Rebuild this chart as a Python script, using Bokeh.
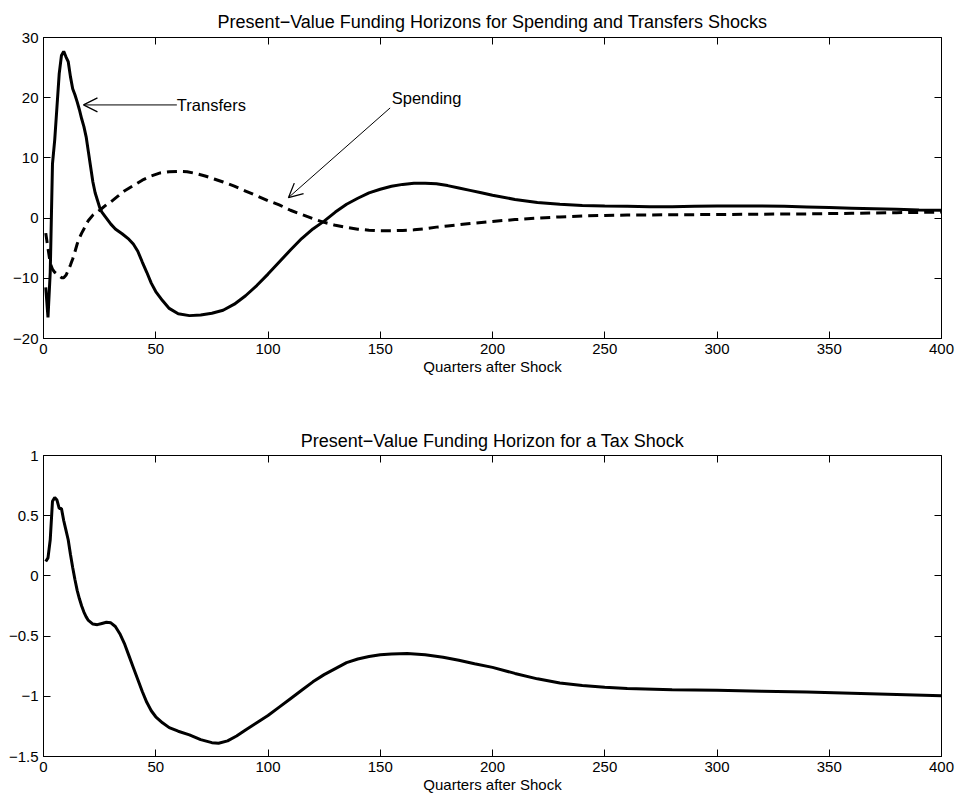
from bokeh.plotting import figure
from bokeh.models import LinearAxis, FixedTicker, Range1d, Label, Arrow, OpenHead
from bokeh.layouts import column
from bokeh.embed import file_html
from bokeh.resources import INLINE

# ---------------- data ----------------
transfers_x = [1, 2, 3, 4, 5, 6, 7, 8, 9, 10, 11, 12, 13, 14, 15, 16, 17, 18, 19, 20,
               21, 22, 23, 24, 25, 26, 28, 30, 32, 35, 38, 40, 42, 44, 46, 48, 50, 53, 56, 60,
               65, 70, 75, 80, 85, 90, 95, 100, 105, 110, 115, 120, 125, 130, 135, 140, 145,
               150, 155, 160, 165, 170, 175, 180, 185, 190, 195, 200, 210, 220, 230, 240, 250,
               260, 270, 280, 290, 300, 310, 320, 330, 340, 350, 360, 370, 380, 390, 400]
transfers_y = [-11.5, -16.5, -9.0, 9.0, 13.0, 18.5, 24.0, 27.0, 27.7, 26.8, 26.0, 23.5, 21.5,
               20.5, 19.3, 18.0, 16.5, 15.2, 13.5, 11.0, 8.5, 6.0, 4.2, 3.0, 1.8, 1.0, 0.0,
               -1.0, -1.8, -2.6, -3.5, -4.3, -5.5, -7.3, -9.0, -10.8, -12.2, -13.7, -15.0,
               -15.9, -16.2, -16.1, -15.8, -15.3, -14.3, -12.9, -11.2, -9.3, -7.3, -5.3, -3.4,
               -1.8, -0.5, 1.0, 2.3, 3.3, 4.2, 4.8, 5.3, 5.6, 5.8, 5.8, 5.7, 5.4, 5.0, 4.6,
               4.2, 3.8, 3.1, 2.6, 2.3, 2.1, 2.0, 1.95, 1.9, 1.9, 1.95, 2.0, 2.0, 2.0, 1.95,
               1.85, 1.75, 1.65, 1.55, 1.45, 1.35, 1.3]

spending_x = [1, 2, 3, 4, 5, 6, 7, 8, 9, 10, 11, 12, 13, 14, 15, 16, 17, 18, 19, 20, 22, 25,
              28, 30, 33, 36, 40, 44, 48, 52, 56, 60, 64, 68, 72, 76, 80, 85, 90, 95, 100, 105,
              110, 115, 120, 125, 130, 135, 140, 145, 150, 155, 160, 165, 170, 175, 180, 190,
              200, 210, 220, 230, 240, 250, 260, 280, 300, 320, 340, 360, 380, 400]
spending_y = [-2.5, -5.0, -7.5, -8.5, -9.0, -9.3, -9.6, -9.9, -9.9, -9.5, -8.7, -7.8, -6.8,
              -5.6, -4.3, -3.3, -2.5, -1.8, -1.0, -0.4, 0.5, 1.3, 2.2, 2.7, 3.6, 4.5, 5.4, 6.3,
              7.0, 7.5, 7.7, 7.75, 7.7, 7.4, 7.0, 6.5, 6.0, 5.3, 4.5, 3.7, 2.9, 2.2, 1.3, 0.6,
              -0.1, -0.7, -1.2, -1.55, -1.85, -2.0, -2.1, -2.1, -2.05, -1.95, -1.75, -1.5,
              -1.3, -0.9, -0.55, -0.25, 0.0, 0.2, 0.35, 0.45, 0.5, 0.55, 0.6, 0.65, 0.7, 0.8,
              0.9, 1.0]

tax_x = [1, 2, 3, 4, 5, 6, 7, 8, 9, 10, 11, 12, 13, 14, 15, 16, 17, 18, 19, 20, 22, 24, 26,
         28, 30, 32, 34, 36, 38, 40, 42, 44, 46, 48, 50, 53, 56, 60, 65, 70, 75, 78, 82, 86,
         90, 95, 100, 105, 110, 115, 120, 125, 130, 135, 140, 145, 150, 155, 162, 170, 178,
         185, 192, 200, 210, 220, 230, 240, 250, 260, 280, 300, 320, 340, 360, 380, 400]
tax_y = [0.12, 0.15, 0.30, 0.62, 0.65, 0.63, 0.56, 0.56, 0.46, 0.38, 0.30, 0.18, 0.07, -0.03,
         -0.12, -0.19, -0.25, -0.30, -0.34, -0.37, -0.40, -0.405, -0.395, -0.385, -0.39,
         -0.42, -0.48, -0.56, -0.66, -0.76, -0.86, -0.96, -1.05, -1.12, -1.17, -1.22, -1.26,
         -1.29, -1.32, -1.36, -1.385, -1.39, -1.37, -1.33, -1.28, -1.22, -1.16, -1.09,
         -1.02, -0.95, -0.88, -0.82, -0.77, -0.72, -0.69, -0.67, -0.655, -0.648, -0.645,
         -0.655, -0.675, -0.70, -0.73, -0.76, -0.81, -0.855, -0.89, -0.91, -0.925, -0.935,
         -0.945, -0.95, -0.958, -0.965, -0.975, -0.985, -0.995]

x_ticks = [0, 50, 100, 150, 200, 250, 300, 350, 400]
x_tick_labels = ["0", "50", "100", "150", "200", "250", "300", "350", "400"]
top_y_ticks = [-20, -10, 0, 10, 20, 30]
top_y_tick_labels = ["\u221220", "\u221210", "0", "10", "20", "30"]
bot_y_ticks = [-1.5, -1, -0.5, 0, 0.5, 1]
bot_y_tick_labels = ["\u22121.5", "\u22121", "\u22120.5", "0", "0.5", "1"]

top_title = "Present\u2212Value Funding Horizons for Spending and Transfers Shocks"
bot_title = "Present\u2212Value Funding Horizon for a Tax Shock"
x_label = "Quarters after Shock"

FONT = "Liberation Sans"
TICK_FS = "15px"
TITLE_FS = "18px"
ANN_FS = "16.5px"


def make_fig(title, y_range, y_ticks, y_labels, border_top, border_bottom, title_standoff):
    p = figure(output_backend="svg", toolbar_location=None,
               frame_width=898, frame_height=301,
               min_border_left=43, min_border_right=15,
               min_border_top=border_top, min_border_bottom=border_bottom,
               x_range=Range1d(0, 400), y_range=Range1d(*y_range),
               x_axis_type=None, y_axis_type=None,
               background_fill_color="white", border_fill_color="white")
    p.outline_line_color = "black"
    p.outline_line_width = 1
    p.xgrid.visible = False
    p.ygrid.visible = False

    p.title.text = title
    p.title.align = "center"
    p.title.text_font = FONT
    p.title.text_font_size = TITLE_FS
    p.title.text_font_style = "normal"
    p.title.text_color = "black"
    p.title.standoff = title_standoff

    xax = LinearAxis(ticker=FixedTicker(ticks=x_ticks),
                     major_label_overrides={t: l for t, l in zip(x_ticks, x_tick_labels)},
                     axis_label=x_label)
    yax = LinearAxis(ticker=FixedTicker(ticks=y_ticks),
                     major_label_overrides={t: l for t, l in zip(y_ticks, y_labels)})
    for ax in (xax, yax):
        ax.major_tick_in = 7
        ax.major_tick_out = 0
        ax.minor_tick_line_color = None
        ax.axis_line_color = "black"
        ax.major_tick_line_color = "black"
        ax.major_label_text_font = FONT
        ax.major_label_text_font_size = TICK_FS
        ax.major_label_text_color = "black"
        ax.major_label_standoff = 5
    xax.axis_label_text_font = FONT
    xax.axis_label_text_font_size = TICK_FS
    xax.axis_label_text_font_style = "normal"
    xax.axis_label_text_color = "black"
    xax.axis_label_standoff = 1
    p.add_layout(xax, "below")
    p.add_layout(yax, "left")

    tax_ = LinearAxis(ticker=FixedTicker(ticks=x_ticks))
    rax = LinearAxis(ticker=FixedTicker(ticks=y_ticks))
    for ax in (tax_, rax):
        ax.major_tick_in = 7
        ax.major_tick_out = 0
        ax.minor_tick_line_color = None
        ax.axis_line_color = None
        ax.major_tick_line_color = "black"
        ax.major_label_text_font_size = "0px"
        ax.major_label_text_color = None
        ax.major_label_standoff = 0
    p.add_layout(tax_, "above")
    p.add_layout(rax, "right")
    return p


p1 = make_fig(top_title, (-20, 30), top_y_ticks, top_y_tick_labels, 37, 62, 12)
p1.line(spending_x, spending_y, line_color="black", line_width=3, line_dash="10 6")
p1.line(transfers_x, transfers_y, line_color="black", line_width=3)

p1.add_layout(Arrow(end=OpenHead(size=14, line_width=1.3, line_color="black"),
                    x_start=59.4, y_start=18.8, x_end=17.8, y_end=18.8,
                    line_width=1, line_color="black"))
p1.add_layout(Label(x=59.4, y=18.8, text="Transfers", text_align="left",
                    text_baseline="middle", text_font=FONT, text_font_size=ANN_FS,
                    text_color="black"))
p1.add_layout(Arrow(end=OpenHead(size=14, line_width=1.3, line_color="black"),
                    x_start=154.4, y_start=18.3, x_end=109.1, y_end=3.4,
                    line_width=1, line_color="black"))
p1.add_layout(Label(x=155.1, y=19.9, text="Spending", text_align="left",
                    text_baseline="middle", text_font=FONT, text_font_size=ANN_FS,
                    text_color="black"))

p2 = make_fig(bot_title, (-1.5, 1), bot_y_ticks, bot_y_tick_labels, 55, 44, 10)
p2.line(tax_x, tax_y, line_color="black", line_width=3)

layout = column(p1, p2, spacing=0)
open("out.html", "w").write(file_html(layout, INLINE))
